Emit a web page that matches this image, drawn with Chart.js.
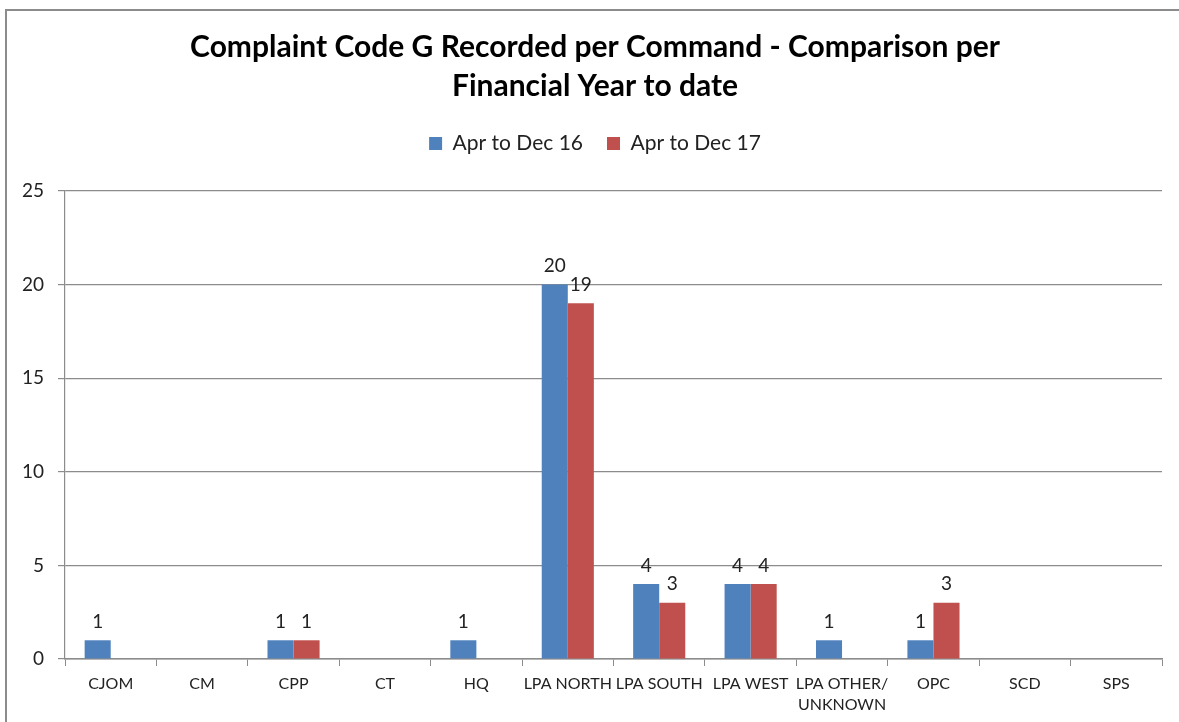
<!DOCTYPE html>
<html>
<head>
<meta charset="utf-8">
<script src="https://cdn.jsdelivr.net/npm/chart.js@4"></script>
<style>
  body { margin: 0; background: #fff; }
  #wrap { position: relative; width: 1179px; height: 722px; overflow: hidden; }
  #frame { position: absolute; left: 5px; top: 9px; width: 1300px; height: 900px; border: 2px solid #8c8c8c; box-sizing: border-box; }
  canvas { position: absolute; left: 0; top: 0; }
</style>
</head>
<body>
<div id="wrap">
  <div id="frame"></div>
  <canvas id="chart" width="1179" height="722"></canvas>
</div>
<script>
// categories (commands)
const commands = ['CJOM', 'CM', 'CPP', 'CT', 'HQ', 'LPA NORTH', 'LPA SOUTH', 'LPA WEST', ['LPA OTHER/', 'UNKNOWN'], 'OPC', 'SCD', 'SPS'];
// series values
const aprDec16 = [1, 0, 1, 0, 1, 20, 4, 4, 1, 1, 0, 0];
const aprDec17 = [0, 0, 1, 0, 0, 19, 3, 4, 0, 3, 0, 0];
// y axis ticks
const yTicks = [0, 5, 10, 15, 20, 25];

const fontFamily = 'Lato, "Open Sans", sans-serif';

// draw value labels above non-zero bars
const valueLabels = {
    id: 'valueLabels',
    afterDatasetsDraw(chart) {
        const ctx = chart.ctx;
        ctx.save();
        ctx.font = '19px ' + fontFamily;
        ctx.fillStyle = '#222';
        ctx.textAlign = 'center';
        ctx.textBaseline = 'bottom';
        chart.data.datasets.forEach((ds, i) => {
            const meta = chart.getDatasetMeta(i);
            meta.data.forEach((bar, j) => {
                const v = ds.data[j];
                if (!v) return;
                ctx.fillText(String(v), bar.x, bar.y - 9);
            });
        });
        ctx.restore();
    }
};

// fixed legend height so the plot starts where the original does,
// and title/legend centred a bit to the right like the original
const headerLayout = {
    id: 'headerLayout',
    beforeLayout(chart) {
        const lg = chart.legend;
        if (lg && !lg._fixed) {
            const fit = lg.fit.bind(lg);
            lg.fit = function() { fit(); this.height = 82; };
            lg._fixed = true;
        }
    },
    afterLayout(chart) {
        if (chart.titleBlock) chart.titleBlock.left = 28;
        if (chart.legend) chart.legend.left = 28;
    }
};

const ctx = document.getElementById('chart').getContext('2d');
new Chart(ctx, {
    type: 'bar',
    data: {
        labels: commands,
        datasets: [
            { label: 'Apr to Dec 16', data: aprDec16, backgroundColor: '#4F81BD' },
            { label: 'Apr to Dec 17', data: aprDec17, backgroundColor: '#C0504D' }
        ]
    },
    plugins: [valueLabels, headerLayout],
    options: {
        responsive: false,
        animation: false,
        categoryPercentage: 0.57,
        barPercentage: 1,
        layout: { padding: { left: 0, right: 17, top: 0, bottom: 0 } },
        plugins: {
            title: {
                display: true,
                text: ['Complaint Code G Recorded per Command - Comparison per', 'Financial Year to date'],
                color: '#000',
                font: { family: fontFamily, size: 30, weight: 'bold', lineHeight: 1.3 },
                padding: { top: 28, bottom: 3 }
            },
            legend: {
                position: 'top',
                labels: {
                    color: '#222',
                    font: { family: fontFamily, size: 21 },
                    boxWidth: 13,
                    boxHeight: 13,
                    padding: 24
                }
            },
            tooltip: { enabled: false }
        },
        scales: {
            x: {
                grid: { offset: true, drawOnChartArea: false, drawTicks: true, tickLength: 7, color: '#8c8c8c' },
                border: { display: true, color: '#8c8c8c', width: 1.5 },
                ticks: {
                    autoSkip: false, maxRotation: 0, color: '#222',
                    font: { family: fontFamily, size: 16, lineHeight: 1.31 }, padding: 7
                },
                afterFit(scale) { scale.height = 63; }
            },
            y: {
                min: 0, max: 25,
                afterBuildTicks(scale) { scale.ticks = yTicks.map(v => ({ value: v })); },
                grid: { color: '#8c8c8c', lineWidth: 1.2, tickLength: 7 },
                border: { display: true, color: '#8c8c8c', width: 1.2 },
                ticks: { color: '#222', font: { family: fontFamily, size: 19 }, padding: 14 },
                afterFit(scale) { scale.width = 65; }
            }
        }
    }
});
</script>
</body>
</html>
